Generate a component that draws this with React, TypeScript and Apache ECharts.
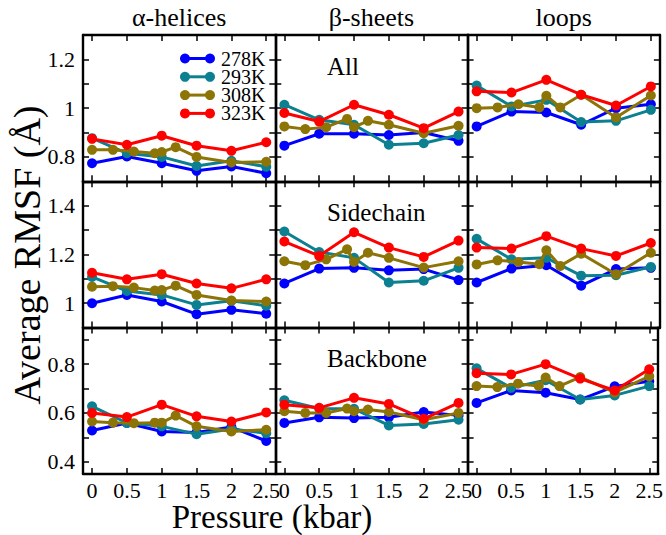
import React, { useEffect, useRef } from "react";
import * as echarts from "echarts";

const temps = ["278K", "293K", "308K", "323K"];
const colors = ["#0000ff", "#0c8090", "#8c7406", "#ff0000"];
const P = [0, 0.5, 1, 1.5, 2, 2.5];
const P308 = [0, 0.3, 0.6, 0.9, 1, 1.2, 1.5, 2, 2.5];
const colTitles = ["α-helices", "β-sheets", "loops"];
const rowTitles = ["All", "Sidechain", "Backbone"];
const yRanges = [[0.7, 1.3], [0.9, 1.5], [0.35, 0.95]];
const yTicks = [[0.8, 0.9, 1, 1.1, 1.2], [1, 1.1, 1.2, 1.3, 1.4], [0.4, 0.5, 0.6, 0.7, 0.8, 0.9]];
const yLabels = [[0.8, 1, 1.2], [1, 1.2, 1.4], [0.4, 0.6, 0.8]];

// All
const helAll278 = [0.774, 0.802, 0.774, 0.743, 0.761, 0.733];
const helAll293 = [0.877, 0.815, 0.8, 0.763, 0.784, 0.76];
const helAll308 = [0.829, 0.829, 0.822, 0.815, 0.82, 0.84, 0.8, 0.777, 0.78];
const helAll323 = [0.874, 0.85, 0.887, 0.846, 0.825, 0.86];
const shtAll278 = [0.846, 0.895, 0.895, 0.89, 0.9, 0.866];
const shtAll293 = [1.014, 0.952, 0.932, 0.85, 0.856, 0.89];
const shtAll308 = [0.925, 0.914, 0.922, 0.956, 0.922, 0.948, 0.932, 0.897, 0.928];
const shtAll323 = [0.98, 0.945, 1.014, 0.973, 0.918, 0.986];
const loopAll278 = [0.925, 0.986, 0.982, 0.932, 1.0, 1.016];
const loopAll293 = [1.093, 1.007, 1.034, 0.943, 0.948, 0.993];
const loopAll308 = [1.0, 1.003, 1.016, 1.003, 1.051, 1.003, 1.055, 0.962, 1.052];
const loopAll323 = [1.069, 1.064, 1.116, 1.055, 1.011, 1.089];
// Sidechain
const helSc278 = [1.0, 1.034, 1.007, 0.955, 0.973, 0.957];
const helSc293 = [1.108, 1.05, 1.034, 0.993, 1.01, 0.99];
const helSc308 = [1.068, 1.07, 1.064, 1.052, 1.054, 1.072, 1.034, 1.011, 1.007];
const helSc323 = [1.125, 1.098, 1.119, 1.081, 1.061, 1.098];
const shtSc278 = [1.081, 1.142, 1.145, 1.135, 1.14, 1.095];
const shtSc293 = [1.294, 1.21, 1.186, 1.085, 1.092, 1.145];
const shtSc308 = [1.172, 1.156, 1.18, 1.221, 1.169, 1.207, 1.186, 1.146, 1.172];
const shtSc323 = [1.253, 1.194, 1.291, 1.228, 1.19, 1.257];
const loopSc278 = [1.085, 1.142, 1.156, 1.072, 1.14, 1.145];
const loopSc293 = [1.264, 1.18, 1.186, 1.113, 1.115, 1.149];
const loopSc308 = [1.159, 1.176, 1.169, 1.16, 1.217, 1.153, 1.203, 1.119, 1.207];
const loopSc323 = [1.228, 1.224, 1.275, 1.224, 1.194, 1.247];
// Backbone
const helBb278 = [0.528, 0.559, 0.524, 0.52, 0.542, 0.485];
const helBb293 = [0.627, 0.559, 0.545, 0.513, 0.534, 0.517];
const helBb308 = [0.565, 0.56, 0.558, 0.56, 0.56, 0.589, 0.545, 0.524, 0.531];
const helBb323 = [0.6, 0.583, 0.634, 0.586, 0.565, 0.602];
const shtBb278 = [0.559, 0.582, 0.579, 0.582, 0.604, 0.59];
const shtBb293 = [0.652, 0.618, 0.617, 0.549, 0.555, 0.572];
const shtBb308 = [0.607, 0.6, 0.6, 0.618, 0.607, 0.614, 0.604, 0.572, 0.6];
const shtBb323 = [0.634, 0.621, 0.662, 0.637, 0.576, 0.641];
const loopBb278 = [0.641, 0.692, 0.683, 0.655, 0.709, 0.73];
const loopBb293 = [0.783, 0.703, 0.734, 0.655, 0.672, 0.71];
const loopBb308 = [0.71, 0.706, 0.72, 0.71, 0.745, 0.71, 0.747, 0.684, 0.75];
const loopBb323 = [0.763, 0.758, 0.8, 0.741, 0.692, 0.779];

const panels = [
  [[helAll278, helAll293, helAll308, helAll323], [shtAll278, shtAll293, shtAll308, shtAll323], [loopAll278, loopAll293, loopAll308, loopAll323]],
  [[helSc278, helSc293, helSc308, helSc323], [shtSc278, shtSc293, shtSc308, shtSc323], [loopSc278, loopSc293, loopSc308, loopSc323]],
  [[helBb278, helBb293, helBb308, helBb323], [shtBb278, shtBb293, shtBb308, shtBb323], [loopBb278, loopBb293, loopBb308, loopBb323]],
];

const FONT = "'Liberation Serif', 'Times New Roman', serif";

export default function App() {
  const ref = useRef<HTMLDivElement>(null);
  useEffect(() => {
    document.body.style.margin = "0";
    if (!ref.current) return;
    const chart = echarts.init(ref.current, null, { renderer: "svg" });
    const L0 = 83, W = 192.3, T0 = 35, H = 146.3;
    const grid: any[] = [];
    const xAxis: any[] = [];
    const yAxis: any[] = [];
    const series: any[] = [];
    const lineAx = { show: true, onZero: false, lineStyle: { color: "#000", width: 2.4 } };
    for (let r = 0; r < 3; r++) {
      for (let c = 0; c < 3; c++) {
        const g = r * 3 + c;
        grid.push({ left: L0 + c * W, top: T0 + r * H, width: W, height: H, show: false });
        for (const pos of ["bottom", "top"]) {
          xAxis.push({
            type: "value", gridIndex: g, position: pos, min: -0.13, max: 2.63,
            axisLine: lineAx,
            axisTick: { show: true, inside: true, length: 6, customValues: P, lineStyle: { color: "#000", width: 1.5 } },
            axisLabel: { show: pos === "bottom" && r === 2, customValues: P, fontSize: 22, fontFamily: FONT, color: "#000", margin: 6 },
            splitLine: { show: false },
          });
        }
        for (const pos of ["left", "right"]) {
          yAxis.push({
            type: "value", gridIndex: g, position: pos, min: yRanges[r][0], max: yRanges[r][1],
            axisLine: lineAx,
            axisTick: { show: true, inside: true, length: 6, customValues: yTicks[r], lineStyle: { color: "#000", width: 1.5 } },
            axisLabel: { show: pos === "left" && c === 0, customValues: yLabels[r], fontSize: 22, fontFamily: FONT, color: "#000", margin: 8 },
            splitLine: { show: false },
          });
        }
        panels[r][c].forEach((vals, k) => {
          const xs = k === 2 ? P308 : P;
          series.push({
            type: "line", name: temps[k], xAxisIndex: 2 * g, yAxisIndex: 2 * g,
            data: vals.map((v, i) => [xs[i], v]),
            symbol: "circle", symbolSize: 10, showSymbol: true,
            color: colors[k], lineStyle: { width: 3, color: colors[k] },
            itemStyle: { color: colors[k] }, z: 2 + k,
          });
        });
      }
    }
    const graphic: any[] = [];
    colTitles.forEach((t, c) => {
      graphic.push({ type: "text", x: L0 + c * W + W / 2, y: 17, style: { text: t, font: `26px ${FONT}`, fill: "#000", textAlign: "center", textVerticalAlign: "middle" } });
    });
    rowTitles.forEach((t, r) => {
      graphic.push({ type: "text", x: 327, y: T0 + r * H + 31, style: { text: t, font: `25px ${FONT}`, fill: "#000", textAlign: "left", textVerticalAlign: "middle" } });
    });
    temps.forEach((t, k) => {
      const y = 58.5 + k * 18.3;
      graphic.push({ type: "line", shape: { x1: 185, y1: y, x2: 210, y2: y }, style: { stroke: colors[k], lineWidth: 3 } });
      graphic.push({ type: "circle", shape: { cx: 185, cy: y, r: 5 }, style: { fill: colors[k] } });
      graphic.push({ type: "circle", shape: { cx: 210, cy: y, r: 5 }, style: { fill: colors[k] } });
      graphic.push({ type: "text", x: 221, y: y, style: { text: t, font: `20px ${FONT}`, fill: "#000", textAlign: "left", textVerticalAlign: "middle" } });
    });
    graphic.push({ type: "text", x: 272, y: 517, style: { text: "Pressure (kbar)", font: `33px ${FONT}`, fill: "#000", textAlign: "center", textVerticalAlign: "middle" } });
    graphic.push({ type: "text", x: 27, y: 255, rotation: Math.PI / 2, style: { text: "Average RMSF (Å)", font: `38px ${FONT}`, fill: "#000", textAlign: "center", textVerticalAlign: "middle" } });

    chart.setOption({ animation: false, backgroundColor: "#fff", grid, xAxis, yAxis, series, graphic });
    return () => chart.dispose();
  }, []);
  return <div ref={ref} style={{ width: 666, height: 535 }} />;
}
